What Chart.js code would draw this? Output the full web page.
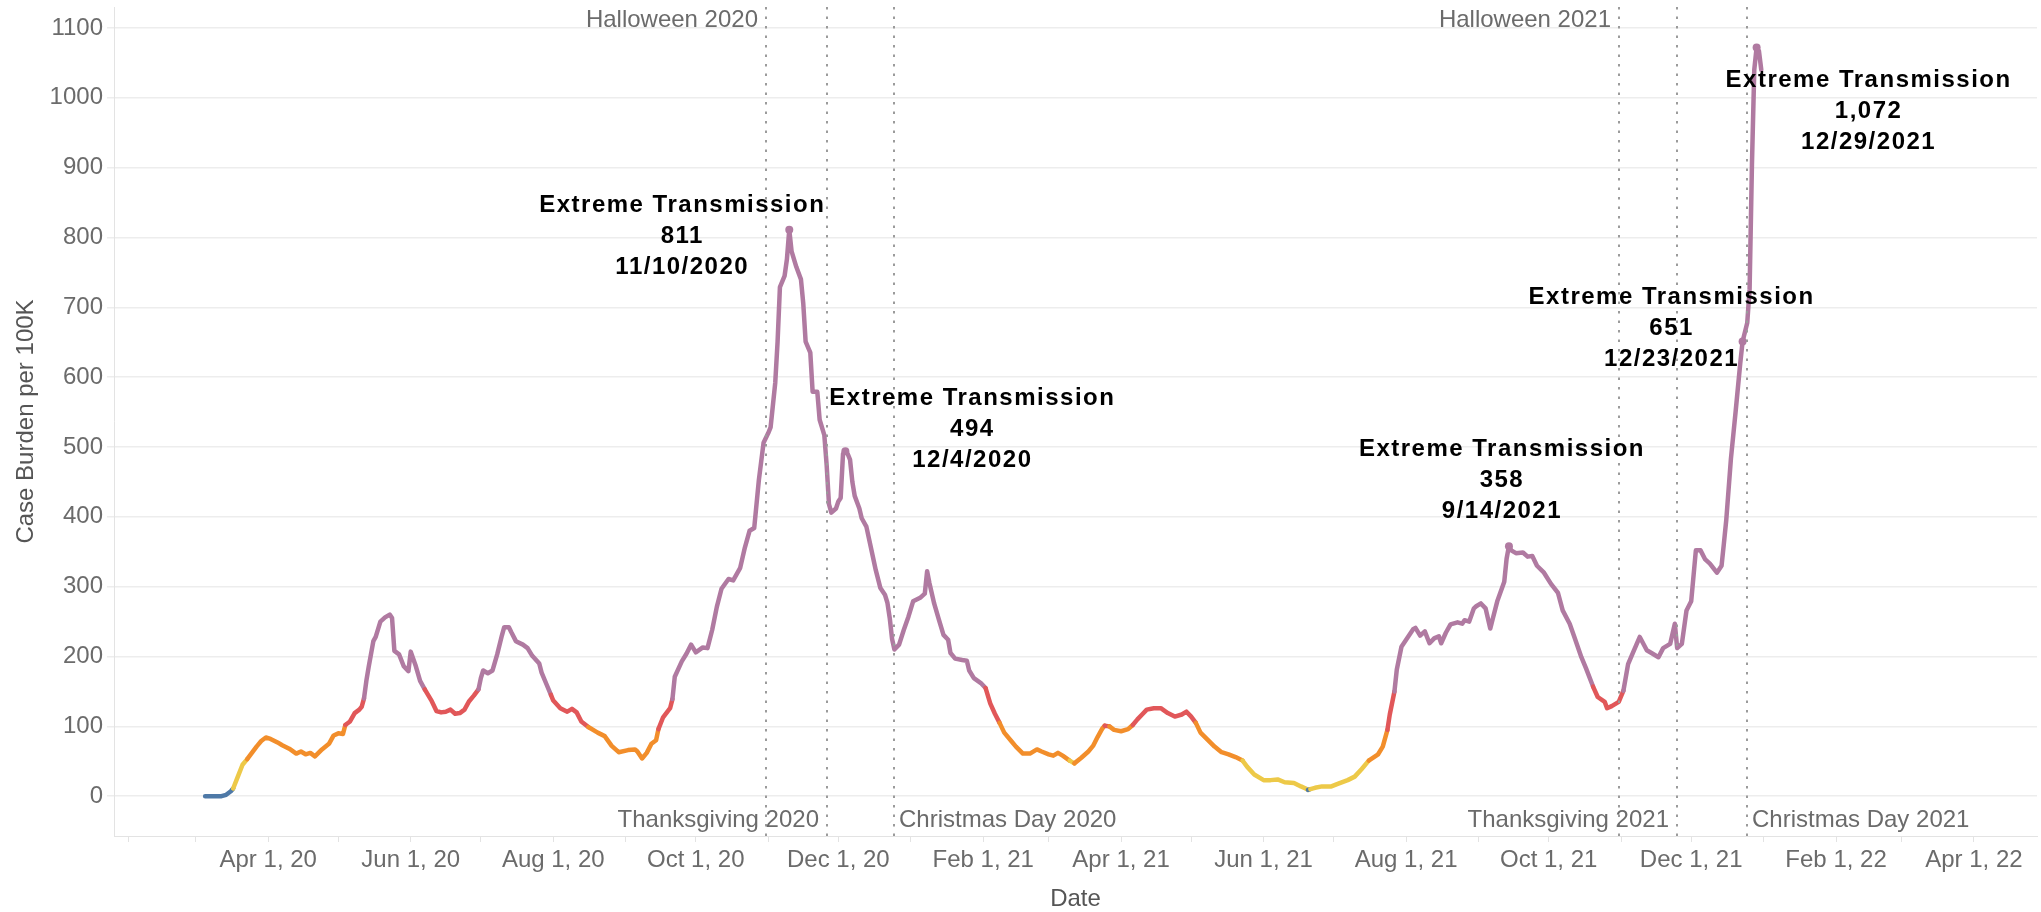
<!DOCTYPE html>
<html>
<head>
<meta charset="utf-8">
<script src="https://cdn.jsdelivr.net/npm/chart.js@4.4.0/dist/chart.umd.min.js"></script>
<style>html,body{margin:0;padding:0;background:#fff;overflow:hidden}canvas{display:block}</style>
</head>
<body>
<canvas id="c" width="2041" height="912"></canvas>
<script>
// ---------------- DATA ----------------
const dates = [
'2020-03-05','2020-03-08','2020-03-12','2020-03-14','2020-03-16','2020-03-17','2020-03-19','2020-03-21','2020-03-23','2020-03-25','2020-03-27','2020-03-29','2020-03-31',
'2020-04-02','2020-04-05','2020-04-07','2020-04-10','2020-04-13','2020-04-15','2020-04-17','2020-04-19','2020-04-21','2020-04-24','2020-04-27','2020-04-29',
'2020-05-01','2020-05-03','2020-05-04','2020-05-06','2020-05-08','2020-05-10','2020-05-11','2020-05-12','2020-05-13','2020-05-14','2020-05-16','2020-05-17','2020-05-19','2020-05-21','2020-05-23','2020-05-24','2020-05-25','2020-05-27','2020-05-29','2020-05-31',
'2020-06-01','2020-06-03','2020-06-05','2020-06-07','2020-06-10','2020-06-12','2020-06-14','2020-06-16','2020-06-18','2020-06-20','2020-06-22','2020-06-24','2020-06-26','2020-06-28','2020-06-30',
'2020-07-01','2020-07-02','2020-07-04','2020-07-06','2020-07-08','2020-07-10','2020-07-11','2020-07-13','2020-07-14','2020-07-16','2020-07-19','2020-07-21','2020-07-23','2020-07-26','2020-07-27','2020-07-29','2020-07-31',
'2020-08-01','2020-08-04','2020-08-07','2020-08-09','2020-08-11','2020-08-13','2020-08-16','2020-08-20','2020-08-23','2020-08-26','2020-08-29',
'2020-09-02','2020-09-05','2020-09-06','2020-09-08','2020-09-10','2020-09-12','2020-09-14','2020-09-15','2020-09-17','2020-09-20','2020-09-21','2020-09-22','2020-09-25','2020-09-27','2020-09-29',
'2020-10-01','2020-10-04','2020-10-06','2020-10-08','2020-10-10','2020-10-12','2020-10-15','2020-10-17','2020-10-20','2020-10-22','2020-10-24','2020-10-26','2020-10-28','2020-10-30',
'2020-11-01','2020-11-02','2020-11-04','2020-11-05','2020-11-06','2020-11-08','2020-11-09','2020-11-10','2020-11-11','2020-11-13','2020-11-15','2020-11-16','2020-11-17','2020-11-19','2020-11-20','2020-11-22','2020-11-23','2020-11-25','2020-11-26','2020-11-27','2020-11-28','2020-11-30',
'2020-12-01','2020-12-02','2020-12-03','2020-12-04','2020-12-05','2020-12-06','2020-12-07','2020-12-08','2020-12-10','2020-12-11','2020-12-13','2020-12-15','2020-12-17','2020-12-19','2020-12-21','2020-12-22','2020-12-23','2020-12-24','2020-12-25','2020-12-27','2020-12-29','2020-12-31',
'2021-01-02','2021-01-05','2021-01-07','2021-01-08','2021-01-09','2021-01-11','2021-01-13','2021-01-15','2021-01-17','2021-01-18','2021-01-20','2021-01-23','2021-01-25','2021-01-26','2021-01-28','2021-01-31',
'2021-02-02','2021-02-04','2021-02-06','2021-02-08','2021-02-10','2021-02-13','2021-02-15','2021-02-18','2021-02-21','2021-02-24','2021-02-26',
'2021-03-01','2021-03-03','2021-03-05','2021-03-07','2021-03-10','2021-03-12','2021-03-15','2021-03-18','2021-03-20','2021-03-22','2021-03-24','2021-03-25','2021-03-27','2021-03-29',
'2021-04-01','2021-04-04','2021-04-06','2021-04-08','2021-04-10','2021-04-12','2021-04-15','2021-04-18','2021-04-21','2021-04-24','2021-04-27','2021-04-29',
'2021-05-01','2021-05-03','2021-05-05','2021-05-08','2021-05-11','2021-05-14','2021-05-17','2021-05-20','2021-05-23','2021-05-25','2021-05-28',
'2021-06-01','2021-06-04','2021-06-07','2021-06-10','2021-06-14','2021-06-17','2021-06-19','2021-06-20','2021-06-21','2021-06-23','2021-06-26','2021-06-30',
'2021-07-03','2021-07-07','2021-07-10','2021-07-13','2021-07-16','2021-07-20','2021-07-22','2021-07-24','2021-07-25','2021-07-27','2021-07-28','2021-07-30',
'2021-08-01','2021-08-04','2021-08-05','2021-08-07','2021-08-09','2021-08-11','2021-08-13','2021-08-15','2021-08-16','2021-08-18','2021-08-20','2021-08-23','2021-08-25','2021-08-26','2021-08-28','2021-08-30','2021-08-31',
'2021-09-02','2021-09-04','2021-09-06','2021-09-07','2021-09-09','2021-09-12','2021-09-13','2021-09-14','2021-09-15','2021-09-17','2021-09-20','2021-09-22','2021-09-24','2021-09-26','2021-09-29',
'2021-10-02','2021-10-05','2021-10-07','2021-10-10','2021-10-12','2021-10-15','2021-10-17','2021-10-20','2021-10-22','2021-10-25','2021-10-26','2021-10-28','2021-10-31',
'2021-11-02','2021-11-04','2021-11-06','2021-11-09','2021-11-12','2021-11-14','2021-11-17','2021-11-19','2021-11-22','2021-11-24','2021-11-25','2021-11-27','2021-11-29',
'2021-12-01','2021-12-03','2021-12-05','2021-12-07','2021-12-09','2021-12-12','2021-12-14','2021-12-15','2021-12-16','2021-12-18','2021-12-20','2021-12-22','2021-12-23','2021-12-25','2021-12-26','2021-12-27','2021-12-28','2021-12-29','2021-12-30','2021-12-31'
];
const caseBurden = [
0,0,0,2,7,11,28,45,53,62,71,79,84,
82,77,73,68,61,64,60,62,57,67,75,87,
90,89,102,107,119,124,128,140,165,185,222,228,250,256,260,255,208,203,186,179,
207,188,165,153,136,122,120,121,124,118,119,124,136,144,153,
169,180,176,180,203,230,242,242,235,222,217,212,201,190,177,161,145,
137,126,121,125,120,107,99,91,86,72,63,
66,67,64,54,62,75,80,96,113,126,139,171,193,204,217,
206,213,212,238,271,297,311,309,327,356,380,384,453,506,
520,528,592,651,729,745,769,811,780,758,740,705,651,635,579,579,539,517,474,418,406,412,
422,427,490,494,490,482,450,430,412,398,386,355,324,298,288,277,255,225,210,217,238,257,
279,284,290,322,305,276,253,231,224,205,197,195,194,180,169,162,
155,133,118,105,91,79,71,61,61,67,64,
60,58,62,58,51,47,55,64,72,85,97,101,100,95,
93,96,102,110,117,124,126,126,119,114,117,121,
114,105,91,81,71,63,60,56,51,42,31,
23,23,24,20,19,14,11,9,10,12,14,14,
18,23,28,39,51,60,71,95,117,150,181,214,
224,239,241,230,236,219,226,229,219,234,246,249,247,252,250,269,272,
276,269,240,253,279,307,340,358,352,348,349,343,344,330,320,
304,291,266,247,228,199,183,157,142,135,126,129,135,
151,189,205,228,209,205,199,212,218,247,212,218,266,
279,352,352,339,333,320,330,362,395,483,550,620,651,678,726,904,1040,1072,1067,1040
];

// transmission levels (value thresholds and colours)
const levelBreaks = [10, 50, 100, 150];
const levelColors = ['#4e79a7', '#edc948', '#f28e2b', '#e15759', '#b07aa1'];

// axis
const yTicks = [0, 100, 200, 300, 400, 500, 600, 700, 800, 900, 1000, 1100];
const yMin = -57, yMax = 1130;
const xMin = '2020-01-26', xMax = '2022-04-28';
const xTickDates = ['2020-04-01','2020-06-01','2020-08-01','2020-10-01','2020-12-01','2021-02-01','2021-04-01','2021-06-01','2021-08-01','2021-10-01','2021-12-01','2022-02-01','2022-04-01'];
const xTickLabels = ['Apr 1, 20','Jun 1, 20','Aug 1, 20','Oct 1, 20','Dec 1, 20','Feb 1, 21','Apr 1, 21','Jun 1, 21','Aug 1, 21','Oct 1, 21','Dec 1, 21','Feb 1, 22','Apr 1, 22'];
const xMinorTickDates = ['2020-02-01','2020-03-01','2020-05-01','2020-07-01','2020-09-01','2020-11-01','2021-01-01','2021-03-01','2021-05-01','2021-07-01','2021-09-01','2021-11-01','2022-01-01','2022-03-01'];

// reference events
const eventNames = ['Halloween 2020','Thanksgiving 2020','Christmas Day 2020','Halloween 2021','Thanksgiving 2021','Christmas Day 2021'];
const eventDates = ['2020-10-31','2020-11-26','2020-12-25','2021-10-31','2021-11-25','2021-12-25'];

// annotated peaks
const peakDates = ['2020-11-10','2020-12-04','2021-09-14','2021-12-23','2021-12-29'];
const peakValues = [811, 494, 358, 651, 1072];
const peakLevels = ['Extreme Transmission','Extreme Transmission','Extreme Transmission','Extreme Transmission','Extreme Transmission'];

// ---------------- STYLE / LAYOUT ----------------
const FONT = "'Liberation Sans', Arial, Helvetica, sans-serif";
const eventPlacement = ['top', 'bottom-left', 'bottom-right', 'top', 'bottom-left', 'bottom-right'];
const peakOffsets = [{dx:-107,dy:-24},{dx:127,dy:-53},{dx:-7,dy:-97},{dx:-71,dy:-44},{dx:112,dy:33}];

const toDay = s => Date.UTC(+s.slice(0,4), +s.slice(5,7) - 1, +s.slice(8,10)) / 864e5;
const levelColor = v => { let i = 0; while (i < levelBreaks.length && v >= levelBreaks[i]) i++; return levelColors[i]; };
const fmtDate = s => (+s.slice(5,7)) + '/' + (+s.slice(8,10)) + '/' + s.slice(0,4);

const tickLabelMap = {};
xTickDates.forEach((d, i) => { tickLabelMap[toDay(d)] = xTickLabels[i]; });
const allTickDays = xTickDates.concat(xMinorTickDates).map(toDay).sort((a, b) => a - b);

const linePoints = dates.map((d, i) => ({ x: toDay(d), y: caseBurden[i] }));
const peakPoints = peakDates.map((d, i) => ({ x: toDay(d), y: peakValues[i] }));

const overlay = {
  id: 'overlay',
  afterDatasetsDraw(chart) {
    const { ctx, chartArea: a, scales: { x, y } } = chart;
    ctx.save();
    // dotted event lines
    ctx.strokeStyle = '#9b9b9b';
    ctx.lineWidth = 2;
    ctx.setLineDash([2.5, 7]);
    eventDates.forEach(d => {
      const px = Math.round(x.getPixelForValue(toDay(d)));
      ctx.beginPath();
      ctx.moveTo(px, a.top);
      ctx.lineTo(px, a.bottom);
      ctx.stroke();
    });
    ctx.setLineDash([]);
    // event labels
    ctx.font = '24px ' + FONT;
    ctx.fillStyle = '#6b6b6b';
    ctx.textBaseline = 'middle';
    eventNames.forEach((name, i) => {
      const px = Math.round(x.getPixelForValue(toDay(eventDates[i])));
      const p = eventPlacement[i];
      if (p === 'top') { ctx.textAlign = 'right'; ctx.fillText(name, px - 8, a.top + 13); }
      else if (p === 'bottom-left') { ctx.textAlign = 'right'; ctx.fillText(name, px - 8, a.bottom - 16); }
      else { ctx.textAlign = 'left'; ctx.fillText(name, px + 5, a.bottom - 16); }
    });
    // peak annotations
    ctx.font = 'bold 24px ' + FONT;
    ctx.fillStyle = '#000';
    ctx.textAlign = 'center';
    if ('letterSpacing' in ctx) ctx.letterSpacing = '1.5px';
    peakDates.forEach((d, i) => {
      const px = x.getPixelForValue(toDay(d));
      const py = y.getPixelForValue(peakValues[i]);
      const lines = [peakLevels[i], peakValues[i].toLocaleString('en-US'), fmtDate(d)];
      lines.forEach((t, k) => ctx.fillText(t, px + peakOffsets[i].dx, py + peakOffsets[i].dy + k * 31));
    });
    ctx.restore();
  }
};

new Chart(document.getElementById('c'), {
  type: 'line',
  data: {
    datasets: [
      {
        data: linePoints,
        borderWidth: 4.5,
        borderColor: levelColors[4],
        pointRadius: 0,
        tension: 0,
        borderJoinStyle: 'round',
        borderCapStyle: 'round',
        segment: { borderColor: c => levelColor((c.p0.parsed.y + c.p1.parsed.y) / 2) },
        order: 2
      },
      {
        data: peakPoints,
        showLine: false,
        pointRadius: 4,
        pointBackgroundColor: levelColors[4],
        pointBorderWidth: 0,
        order: 1
      }
    ]
  },
  options: {
    responsive: false,
    animation: false,
    devicePixelRatio: 1,
    layout: { padding: { top: 7, right: 0, bottom: 0, left: 0 } },
    plugins: { legend: { display: false }, tooltip: { enabled: false } },
    scales: {
      x: {
        type: 'linear',
        min: toDay(xMin),
        max: toDay(xMax),
        afterBuildTicks: s => { s.ticks = allTickDays.map(v => ({ value: v })); },
        afterFit: s => { s.height = 76; s.paddingLeft = 0; s.paddingRight = 0; },
        ticks: {
          autoSkip: false, maxRotation: 0, minRotation: 0, padding: 4,
          color: '#6b6b6b', font: { family: FONT, size: 24 },
          callback: v => tickLabelMap[v] || ''
        },
        grid: { drawOnChartArea: false, drawTicks: true, tickLength: 6, color: '#e3e3e3', lineWidth: 1 },
        border: { display: true, color: '#e3e3e3', width: 1 },
        title: { display: true, text: 'Date', color: '#555', font: { family: FONT, size: 24, lineHeight: 1 }, padding: { top: 0, bottom: 1 } }
      },
      y: {
        min: yMin,
        max: yMax,
        afterBuildTicks: s => { s.ticks = yTicks.map(v => ({ value: v })); },
        afterFit: s => { s.width = 114; s.paddingTop = 0; s.paddingBottom = 0; },
        ticks: { padding: 4, color: '#6b6b6b', font: { family: FONT, size: 24 }, callback: v => String(v) },
        grid: { color: '#ededed', lineWidth: 1.5, tickLength: 7, drawTicks: true },
        border: { display: true, color: '#e3e3e3', width: 1 },
        title: { display: true, text: 'Case Burden per 100K', color: '#555', font: { family: FONT, size: 24 }, padding: { top: 12, bottom: 0 } }
      }
    }
  },
  plugins: [overlay]
});
</script>
</body>
</html>
